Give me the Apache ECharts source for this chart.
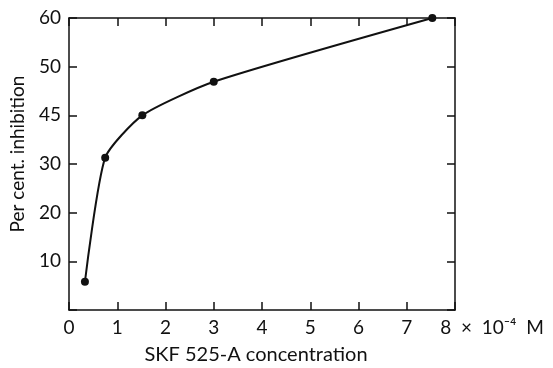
<!DOCTYPE html>
<html>
<head>
<meta charset="utf-8">
<script src="https://cdn.jsdelivr.net/npm/echarts@6/dist/echarts.min.js"></script>
<style>html,body{margin:0;padding:0;background:#fff}#c{width:553px;height:368px}</style>
</head>
<body>
<div id="c"></div>
<script>
var concentration = [0.33, 0.75, 1.52, 3.0, 7.53];
var inhibition = [5.8, 31.3, 40.0, 46.9, 60.0];
var yTickValues = [10, 20, 30, 40, 50, 60];
var yTickLabels = ['10', '20', '30', '45', '50', '60'];
var xTickLabels = ['0', '1', '2', '3', '4', '5', '6', '7', '8'];
var xUnit = '  \u00d7  10\u207b\u2074  M';

var FONT = 'Lato';
var chart = echarts.init(document.getElementById('c'));
var pts = concentration.map(function (x, i) { return [x, inhibition[i]]; });
var lineSt = { color: '#111', width: 1.5 };
chart.setOption({
  animation: false,
  backgroundColor: '#fff',
  textStyle: { fontFamily: FONT, color: '#111' },
  title: {
    text: 'SKF 525-A concentration',
    left: 251, top: 340, textAlign: 'center',
    textStyle: { fontFamily: FONT, fontSize: 20, fontWeight: 'normal', color: '#111' }
  },
  grid: { left: 67, right: 98, top: 18, bottom: 58, show: false },
  xAxis: [{
    type: 'value', min: 0, max: 8, interval: 1, position: 'bottom',
    axisLine: { show: true, onZero: false, lineStyle: lineSt },
    axisTick: { inside: true, length: 8, lineStyle: lineSt },
    splitLine: { show: false },
    axisLabel: {
      margin: 8, fontSize: 19, color: '#111', fontFamily: FONT, showMaxLabel: true, showMinLabel: true,
      formatter: function (v) {
        var s = xTickLabels[Math.round(v)];
        if (Math.round(v) === 8) return '{u|' + s + xUnit + '}';
        return s;
      },
      rich: { u: { fontSize: 19, fontFamily: FONT, color: '#111', padding: [0, 0, 0, 74] } }
    }
  }, {
    type: 'value', min: 0, max: 8, interval: 1, position: 'top',
    axisLine: { show: true, onZero: false, lineStyle: lineSt },
    axisTick: { inside: true, length: 8, lineStyle: lineSt },
    axisLabel: { show: false }, splitLine: { show: false }
  }],
  yAxis: [{
    type: 'value', min: 0, max: 60, interval: 10, position: 'left',
    name: 'Per cent. inhibition', nameLocation: 'middle', nameGap: 42,
    nameTextStyle: { fontSize: 19, fontFamily: FONT, color: '#111', padding: [0, 0, 0, 20] },
    axisLine: { show: true, onZero: false, lineStyle: lineSt },
    axisTick: { inside: true, length: 8, lineStyle: lineSt },
    splitLine: { show: false },
    axisLabel: {
      margin: 8, fontSize: 19, color: '#111', fontFamily: FONT,
      formatter: function (v) {
        var i = yTickValues.indexOf(v);
        return i >= 0 ? yTickLabels[i] : '';
      }
    }
  }, {
    type: 'value', min: 0, max: 60, interval: 10, position: 'right',
    axisLine: { show: true, onZero: false, lineStyle: lineSt },
    axisTick: { inside: true, length: 8, lineStyle: lineSt },
    axisLabel: { show: false }, splitLine: { show: false }
  }],
  series: [{
    type: 'line', data: pts, smooth: 0.2,
    symbol: 'circle', symbolSize: 8,
    itemStyle: { color: '#111' },
    lineStyle: { color: '#111', width: 2 }
  }]
});
</script>
</body>
</html>
